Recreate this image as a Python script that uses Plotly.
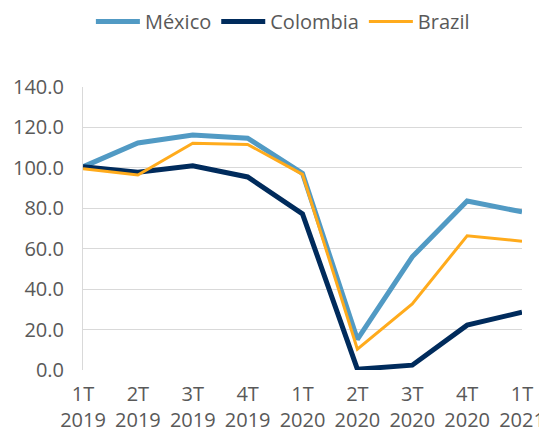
import plotly.graph_objects as go

# trimestres
categorias = ["1T<br>2019", "2T<br>2019", "3T<br>2019", "4T<br>2019",
              "1T<br>2020", "2T<br>2020", "3T<br>2020", "4T<br>2020", "1T<br>2021"]

mexico = [100.5, 112.3, 116.2, 114.7, 97.3, 15.2, 56.0, 83.6, 78.2]
colombia = [100.5, 97.8, 101.0, 95.5, 77.2, 0.4, 2.4, 22.2, 28.6]
brazil = [99.6, 96.5, 112.2, 111.6, 96.8, 10.3, 32.7, 66.4, 63.7]

fig = go.Figure()

fig.add_trace(go.Scatter(x=categorias, y=mexico, mode="lines", name="México",
                         line=dict(color="#519ac4", width=5)))
fig.add_trace(go.Scatter(x=categorias, y=colombia, mode="lines", name="Colombia",
                         line=dict(color="#002b5c", width=5)))
fig.add_trace(go.Scatter(x=categorias, y=brazil, mode="lines", name="Brazil",
                         line=dict(color="#ffab1c", width=3)))

# la página añade 8px de margen al body, se compensa aquí
fig.update_layout(
    width=539, height=424,
    margin=dict(l=75, r=25, t=79, b=62),
    paper_bgcolor="white", plot_bgcolor="white",
    font=dict(family="Open Sans, Roboto, sans-serif", size=20, color="#595959"),
    legend=dict(orientation="h", xref="container", yref="container",
                x=0.51, xanchor="center", y=0.968, yanchor="middle",
                font=dict(size=20, color="#595959"), itemwidth=44),
    showlegend=True,
)

fig.update_xaxes(type="category", range=[0, 8], showgrid=False, showline=False,
                 ticks="", tickfont=dict(size=20), automargin=False,
                 ticklabelstandoff=10)
fig.update_yaxes(range=[0, 140], dtick=20, tickformat=".1f", showgrid=True,
                 gridcolor="#d9d9d9", gridwidth=1, zeroline=False,
                 showline=True, linecolor="#d9d9d9", linewidth=1,
                 ticks="", tickfont=dict(size=20), automargin=False,
                 ticklabelstandoff=14)

fig.write_html("out.html")
